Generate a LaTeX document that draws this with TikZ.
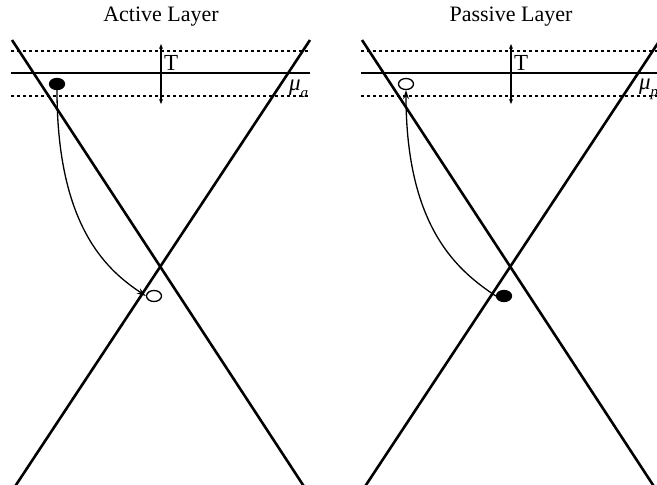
\documentclass[tikz,border=0pt]{standalone}
\usepackage{fontspec}
\setmainfont{Liberation Serif}
\usetikzlibrary{arrows.meta,shapes.geometric}
\begin{document}
\begin{tikzpicture}[x=1pt,y=-1pt,
  xline/.style={line width=2.6pt},
  hline/.style={line width=1.6pt},
  dotline/.style={line width=1.6pt,dash pattern=on 3pt off 3pt},
  ball/.style={ellipse,inner sep=0pt,minimum width=15pt,minimum height=11pt,line width=1.3pt},
  full/.style={ball,draw,fill=black},
  hollow/.style={ball,draw},
  tarrow/.style={line width=1.5pt,{Stealth[length=5pt,width=4pt]}-{Stealth[length=5pt,width=4pt]}},
  jump/.style={line width=1.3pt,-{Stealth[length=9pt,width=6pt]}},
  title/.style={font=\fontsize{22}{25}\selectfont,inner sep=0pt},
  tlab/.style={font=\fontsize{23}{26}\selectfont,inner sep=0pt,anchor=west},
  mulab/.style={font=\fontsize{23}{26}\selectfont\itshape,inner sep=0pt,anchor=west}]
\useasboundingbox (0,0) rectangle (657,485);
\clip (0,0) rectangle (657,485);
% titles
\node[title] (t1) at (161,17) {Active Layer};
\node[title] (t2) at (511,17) {Passive Layer};
% left panel
\coordinate (la1) at (12,40); \coordinate (la2) at (305,488);
\coordinate (lb1) at (14,488); \coordinate (lb2) at (310,40);
\draw[xline] (la1) -- (la2);
\draw[xline] (lb1) -- (lb2);
\coordinate (lh1) at (11,51); \coordinate (lh2) at (310,51);
\coordinate (lm1) at (11,73); \coordinate (lm2) at (310,73);
\coordinate (ll1) at (11,96); \coordinate (ll2) at (310,96);
\draw[dotline] (lh1) -- (lh2);
\draw[hline] (lm1) -- (lm2);
\draw[dotline] (ll1) -- (ll2);
\coordinate (lt1) at (161,44); \coordinate (lt2) at (161,104);
\draw[tarrow] (lt1) -- (lt2);
\node[tlab] (lT) at (164,63) {T};
\node[mulab] (lmu) at (289,89) {μ\raisebox{-0.3em}{\fontsize{15}{15}\selectfont a}};
\node[full] (lf) at (57,84) {};
\node[hollow] (lh) at (154,296) {};
\draw[jump] (lf.south) .. controls (57,230) and (110,272) .. (lh.west);
% right panel
\coordinate (ra1) at (362,40); \coordinate (ra2) at (655,488);
\coordinate (rb1) at (364,488); \coordinate (rb2) at (660,40);
\draw[xline] (ra1) -- (ra2);
\draw[xline] (rb1) -- (rb2);
\coordinate (rh1) at (361,51); \coordinate (rh2) at (660,51);
\coordinate (rm1) at (361,73); \coordinate (rm2) at (660,73);
\coordinate (rl1) at (361,96); \coordinate (rl2) at (660,96);
\draw[dotline] (rh1) -- (rh2);
\draw[hline] (rm1) -- (rm2);
\draw[dotline] (rl1) -- (rl2);
\coordinate (rt1) at (511,44); \coordinate (rt2) at (511,104);
\draw[tarrow] (rt1) -- (rt2);
\node[tlab] (rT) at (514,63) {T};
\node[mulab] (rmu) at (639,89) {μ\raisebox{-0.3em}{\fontsize{15}{15}\selectfont p}};
\node[hollow] (rh) at (406,84) {};
\node[full] (rf) at (504,296) {};
\draw[jump] (rf.west) .. controls (460,272) and (406,230) .. (rh.south);
\end{tikzpicture}
\end{document}
